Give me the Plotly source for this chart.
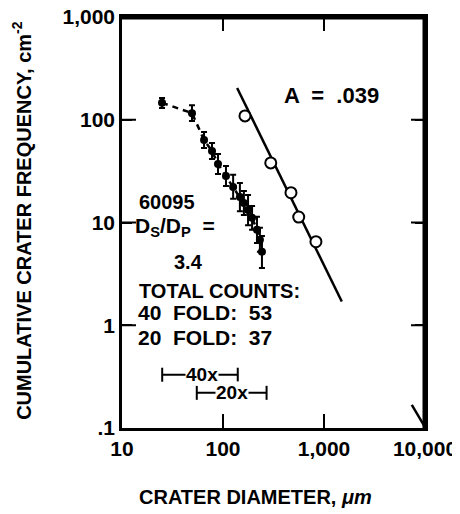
import plotly.graph_objects as go

# ---- data ----
x_ticks = [10, 100, 1000, 10000]
x_ticklabels = ["10", "100", "1,000", "10,000"]
y_ticks = [0.1, 1, 10, 100, 1000]
y_ticklabels = [".1", "1", "10", "100", "1,000"]

# 60095 filled points (cumulative) with error bars
d_diam = [24.9, 49.3, 64.9, 77.8, 89.2, 107, 126, 147, 161, 177, 194, 217, 232, 243]
d_freq = [146, 116, 63.5, 49.6, 37.1, 28.4, 22.2, 17.7, 15.5, 13.2, 11.1, 8.5, 6.8, 5.2]
d_err_up = [17, 22.7, 12.4, 9.7, 9.3, 7.1, 6.9, 6.5, 4.8, 5.3, 3.4, 2.9, 2.1, 2.2]
d_err_dn = [15.6, 19, 10.4, 8.1, 7.5, 5.7, 5.2, 4.8, 3.7, 3.8, 2.6, 2.2, 1.6, 1.6]

# open circles (A = .039)
a_diam = [165, 297, 471, 562, 832]
a_freq = [109, 38, 19.5, 11.3, 6.5]

# fitted line
fit_x = [138, 1500]
fit_y = [204, 1.7]

# short stroke at lower right corner
corner_x = [7400, 10000]
corner_y = [0.168, 0.102]

# magnification ranges
r40_x = [25, 140]
r40_y = [0.33, 0.33]
r20_x = [55, 270]
r20_y = [0.22, 0.22]

FONT = "Liberation Sans"
X_MIN, X_MAX = x_ticks[0], x_ticks[-1]
Y_MIN, Y_MAX = y_ticks[0], y_ticks[-1]
inner_x = x_ticks[1:-1]
inner_y = y_ticks[1:-1]

fig = go.Figure()

fig.add_trace(go.Scatter(x=fit_x, y=fit_y, mode="lines",
                         line=dict(color="black", width=2.5), showlegend=False))
fig.add_trace(go.Scatter(x=d_diam, y=d_freq, mode="lines+markers",
                         line=dict(color="black", width=2.5, dash="6px,5px"),
                         marker=dict(color="black", size=8, symbol="circle"),
                         error_y=dict(type="data", array=d_err_up, arrayminus=d_err_dn,
                                      color="black", thickness=2, width=3),
                         showlegend=False))
fig.add_trace(go.Scatter(x=a_diam, y=a_freq, mode="markers",
                         marker=dict(color="white", size=11, symbol="circle",
                                     line=dict(color="black", width=2)),
                         showlegend=False))
fig.add_trace(go.Scatter(x=corner_x, y=corner_y, mode="lines",
                         line=dict(color="black", width=2.5), showlegend=False))
for rx, ry in [(r40_x, r40_y), (r20_x, r20_y)]:
    fig.add_trace(go.Scatter(x=rx, y=ry, mode="lines+markers",
                             line=dict(color="black", width=2),
                             marker=dict(symbol="line-ns", size=10,
                                         line=dict(color="black", width=2)),
                             showlegend=False))

# frame (top & right edges, half clipped by the plot area) and inward ticks
fig.add_trace(go.Scatter(x=[X_MIN, X_MAX, X_MAX], y=[Y_MAX, Y_MAX, Y_MIN], mode="lines",
                         line=dict(color="black", width=5), hoverinfo="skip", showlegend=False))
for yv in (Y_MIN, Y_MAX):
    fig.add_trace(go.Scatter(x=inner_x, y=[yv] * len(inner_x), mode="markers",
                             marker=dict(symbol="line-ns", size=20,
                                         line=dict(color="black", width=2)),
                             hoverinfo="skip", showlegend=False))
for xv in (X_MIN, X_MAX):
    fig.add_trace(go.Scatter(x=[xv] * len(inner_y), y=inner_y, mode="markers",
                             marker=dict(symbol="line-ew", size=20,
                                         line=dict(color="black", width=2)),
                             hoverinfo="skip", showlegend=False))

def bold(size):
    return dict(family=FONT, size=size, color="black", weight="bold")

annotations = [
    dict(text="A  =  .039", x=0.690, y=0.808, xanchor="center", yanchor="middle", font=bold(22)),
    dict(text="60095", x=0.050, y=0.550, xanchor="left", yanchor="middle", font=bold(20)),
    dict(text="D<sub>S</sub>/D<sub>P</sub>  =", x=0.036, y=0.490, xanchor="left", yanchor="middle", font=bold(21)),
    dict(text="3.4", x=0.218, y=0.404, xanchor="center", yanchor="middle", font=bold(20)),
    dict(text="TOTAL COUNTS:", x=0.050, y=0.333, xanchor="left", yanchor="middle", font=bold(20)),
    dict(text="40  FOLD:  53", x=0.047, y=0.280, xanchor="left", yanchor="middle", font=bold(21)),
    dict(text="20  FOLD:  37", x=0.047, y=0.221, xanchor="left", yanchor="middle", font=bold(21)),
]
for a in annotations:
    a.update(xref="paper", yref="paper", showarrow=False)
    fig.add_annotation(**a)

# range labels (log10 data coords)
for txt, xl, yl in [("40x", 1.792, -0.482), ("20x", 2.089, -0.658)]:
    fig.add_annotation(text=txt, x=xl, y=yl, xref="x", yref="y", showarrow=False,
                       bgcolor="white", borderpad=0, font=bold(19))

# axis titles
fig.add_annotation(text="CUMULATIVE CRATER FREQUENCY, cm<sup>-2</sup>", textangle=-90,
                   x=-0.330, y=0.504, xref="paper", yref="paper", showarrow=False,
                   xanchor="center", yanchor="middle", font=bold(20))
fig.add_annotation(text="CRATER DIAMETER, <i>\u03bcm</i>",
                   x=0.439, y=-0.168, xref="paper", yref="paper", showarrow=False,
                   xanchor="center", yanchor="middle", font=bold(20))

axis_common = dict(showline=True, linecolor="black", linewidth=2.5, mirror="ticks",
                   ticks="inside", ticklen=10, tickwidth=2, tickcolor="black",
                   showgrid=False, zeroline=False, tickfont=bold(21),
                   ticklabeloverflow="allow")
fig.update_xaxes(type="log", range=[1, 4], tickvals=x_ticks, ticktext=x_ticklabels,
                 **axis_common)
fig.update_yaxes(type="log", range=[-1, 3], tickvals=y_ticks, ticktext=y_ticklabels,
                 **axis_common)

fig.update_layout(width=452, height=506, paper_bgcolor="white", plot_bgcolor="white",
                  margin=dict(l=114, r=35, t=9, b=86, autoexpand=False), showlegend=False)

fig.write_html("out.html")
